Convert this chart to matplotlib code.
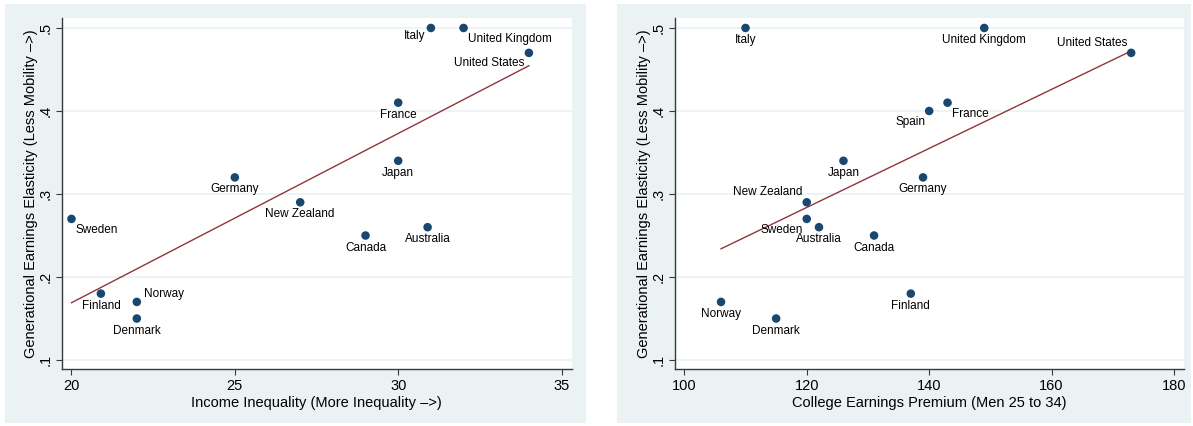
import numpy as np
import matplotlib.pyplot as plt
from matplotlib.patches import Rectangle

plt.rcParams['font.family'] = ['Liberation Sans', 'DejaVu Sans']

W, H = 1193, 426
bg = '#EAF2F3'
navy = '#1A476F'
maroon = '#90353B'
axcol = '#3a3a3a'

# --- data: income inequality panel ---
ineq_countries = ["Italy", "United Kingdom", "United States", "France", "Japan",
                  "Germany", "New Zealand", "Sweden", "Canada", "Australia",
                  "Finland", "Norway", "Denmark"]
ineq_x = [31, 32, 34, 30, 30, 25, 27, 20, 29, 30.9, 20.9, 22, 22]
ineq_y = [0.50, 0.50, 0.47, 0.41, 0.34, 0.32, 0.29, 0.27, 0.25, 0.26, 0.18, 0.17, 0.15]

# --- data: college premium panel ---
prem_countries = ["Italy", "United Kingdom", "United States", "France", "Spain",
                  "Japan", "Germany", "New Zealand", "Sweden", "Australia",
                  "Canada", "Norway", "Denmark", "Finland"]
prem_x = [110, 149, 173, 143, 140, 126, 139, 120, 120, 122, 131, 106, 115, 137]
prem_y = [0.50, 0.50, 0.47, 0.41, 0.40, 0.34, 0.32, 0.29, 0.27, 0.26, 0.25, 0.17, 0.15, 0.18]

left_xticks = [20, 25, 30, 35]
right_xticks = [100, 120, 140, 160, 180]
yticks = [0.1, 0.2, 0.3, 0.4, 0.5]
ytick_labels = ['.1', '.2', '.3', '.4', '.5']

ylab = "Generational Earnings Elasticity (Less Mobility \u2013>)"
left_xlab = "Income Inequality (More Inequality \u2013>)"
right_xlab = "College Earnings Premium (Men 25 to 34)"

# label placement (pixel offsets from the marker, horizontal alignment)
below = (0, -12, 'center')
left_pos = {
    "Italy": (-6, -8, 'right'), "United Kingdom": (4, -11, 'left'),
    "United States": (-5, -10, 'right'), "Sweden": (4, -11, 'left'),
    "Norway": (7, 8, 'left'),
}
right_pos = {
    "United States": (-4, 10, 'right'), "France": (4, -11, 'left'),
    "Spain": (-4, -11, 'right'), "New Zealand": (-4, 10, 'right'),
    "Sweden": (-4, -11, 'right'),
}

fig = plt.figure(figsize=(W / 100, H / 100), dpi=100)

# outer graph regions
for x0, x1 in [(5, 586), (617, 1191)]:
    fig.patches.append(Rectangle((x0 / W, 3 / H), (x1 - x0) / W, (422 - 3) / H,
                                 transform=fig.transFigure, facecolor=bg,
                                 edgecolor='none', zorder=-10))


def panel(rect, xs, ys, names, pos, xlim, xticks, xlab):
    ax = fig.add_axes(rect)
    ax.set_facecolor('white')
    ax.set_xlim(*xlim)
    ax.set_ylim(0.0892, 0.512)
    ax.set_yticks(yticks)
    ax.set_yticklabels(ytick_labels, rotation=90, va='center')
    ax.set_xticks(xticks)
    for y in yticks:
        ax.axhline(y, color=bg, lw=1.2, zorder=0)
    for s in ['top', 'right']:
        ax.spines[s].set_visible(False)
    for s in ['left', 'bottom']:
        ax.spines[s].set_color(axcol)
        ax.spines[s].set_linewidth(1.0)
    ax.tick_params(direction='out', length=4, width=0.8, color=axcol,
                   labelsize=10.5, labelcolor='black', pad=3)

    # fitted line
    b, a = np.polyfit(xs, ys, 1)
    xx = np.array([min(xs), max(xs)])
    ax.plot(xx, a + b * xx, color=maroon, lw=1.0, zorder=2)

    ax.scatter(xs, ys, s=38, color=navy, edgecolors='none', zorder=3)
    for n, x, y in zip(names, xs, ys):
        dx, dy, ha = pos.get(n, below)
        ax.annotate(n, (x, y), xytext=(dx * 0.72, dy * 0.72),
                    textcoords='offset points', ha=ha, va='center',
                    fontsize=8.5, color='black', zorder=4)

    ax.set_xlabel(xlab, fontsize=10.5, labelpad=2)
    ax.set_ylabel(ylab, fontsize=10.5, labelpad=0)
    return ax


panel([62 / W, 57 / H, (571.7 - 62) / W, 351 / H], ineq_x, ineq_y,
      ineq_countries, left_pos, (19.71, 35.31), left_xticks, left_xlab)
panel([675 / W, 57 / H, (1184 - 675) / W, 351 / H], prem_x, prem_y,
      prem_countries, right_pos, (98.48, 181.63), right_xticks, right_xlab)

fig.savefig('out.png', dpi=100)
